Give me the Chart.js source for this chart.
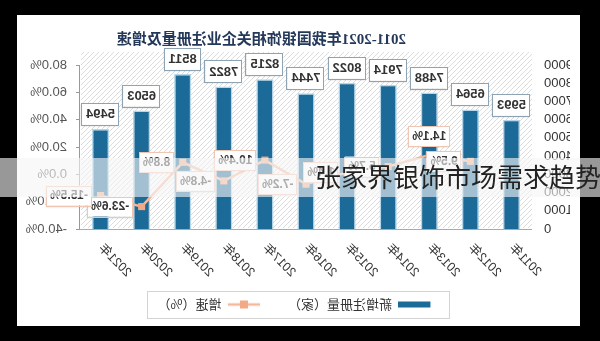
<!DOCTYPE html>
<html>
<head>
<meta charset="utf-8">
<script src="https://cdn.jsdelivr.net/npm/chart.js@4.4.1/dist/chart.umd.min.js"></script>
<style>
  html, body { margin: 0; padding: 0; background: #000; }
  body { width: 600px; height: 341px; position: relative; overflow: hidden; }
  /* the whole card is shown flipped left-to-right */
  #flip { position: absolute; left: 0; top: 0; width: 600px; height: 341px; transform: scaleX(-1); }
  #panel { position: absolute; left: 20px; top: 15px; width: 563px; height: 311px; background: #fff; }
  #title {
    position: absolute; left: 174px; top: 15px; white-space: nowrap;
    font: bold 15px "Liberation Serif", "Noto Sans CJK SC", serif; line-height: 18px; color: #24385a;
  }
  #chartBox { position: absolute; left: 0; top: 0; width: 563px; height: 311px; }
  #band {
    position: absolute; left: 0; top: 158px; width: 600px; height: 39px;
    background: rgba(245, 245, 245, 0.62);
  }
  #band span {
    position: absolute; left: 315px; top: 0; white-space: nowrap;
    font: 26px "Noto Sans CJK SC", sans-serif; line-height: 36px; color: #222;
  }
</style>
</head>
<body>
<div id="flip">
  <div id="panel">
    <div id="chartBox"><canvas id="firmChart"></canvas></div>
    <div id="title">2011-2021年我国银饰相关企业注册量及增速</div>
  </div>
</div>
<div id="band"><span>张家界银饰市场需求趋势</span></div>

<script>
const years = ["2011年", "2012年", "2013年", "2014年", "2015年", "2016年",
  "2017年", "2018年", "2019年", "2020年", "2021年"];
const newFirms = [5993, 6564, 7488, 7914, 8022, 7444, 8215, 7822, 8511, 6503, 5494];
const growthPct = [null, 9.5, 14.1, 5.7, 1.4, -7.2, 10.4, -4.8, 8.8, -23.6, -15.5];
const countTicks = [0, 1000, 2000, 3000, 4000, 5000, 6000, 7000, 8000, 9000];
const pctTicks = [-40, -20, 0, 20, 40, 60, 80];

const BAR_BLUE = "#1b6a98";
const LINE_ORANGE = "#f4b89c";
const MARK_ORANGE = "#f2a985";

// growth tags sit above the point for these years, beside it otherwise
const raisedTags = ["2013年"];

const makeSwatch = (draw) => {
  const c = document.createElement("canvas");
  c.width = 40;
  c.height = 12;
  draw(c.getContext("2d"));
  return c;
};

const barSwatch = makeSwatch((g) => {
  g.fillStyle = BAR_BLUE;
  g.fillRect(8, 3, 32, 6);
});

const lineSwatch = makeSwatch((g) => {
  g.strokeStyle = LINE_ORANGE;
  g.lineWidth = 2.5;
  g.beginPath();
  g.moveTo(8, 6);
  g.lineTo(40, 6);
  g.stroke();
  g.fillStyle = MARK_ORANGE;
  g.fillRect(20, 2, 8, 8);
});

const hatchPlugin = {
  id: "hatch",
  beforeDraw(chart) {
    const { ctx, chartArea: a } = chart;
    const top = a.top - 13;
    const h = a.bottom - top;
    ctx.save();
    ctx.beginPath();
    ctx.rect(a.left, top, a.right - a.left - 1, h - 1);
    ctx.clip();
    ctx.strokeStyle = "#dcdcdc";
    ctx.lineWidth = 1;
    for (let x = a.left - h; x < a.right + h; x += 5) {
      ctx.beginPath();
      ctx.moveTo(x, top);
      ctx.lineTo(x + h, a.bottom);
      ctx.stroke();
    }
    ctx.restore();
  },
};

const drawTag = (ctx, x, y, w, h, border) => {
  ctx.save();
  ctx.shadowColor = "rgba(0,0,0,0.15)";
  ctx.shadowBlur = 2;
  ctx.shadowOffsetX = 1;
  ctx.shadowOffsetY = 1;
  ctx.fillStyle = "#fff";
  ctx.fillRect(x, y, w, h);
  ctx.restore();
  ctx.strokeStyle = border;
  ctx.lineWidth = 1;
  ctx.strokeRect(Math.round(x) + 0.5, Math.round(y) + 0.5, Math.round(w), Math.round(h));
};

const tagPlugin = {
  id: "valueTags",
  afterDatasetsDraw(chart) {
    const { ctx } = chart;
    ctx.save();
    ctx.textAlign = "center";
    ctx.textBaseline = "middle";

    ctx.font = 'bold 13px "Liberation Sans", sans-serif';
    chart.getDatasetMeta(0).data.forEach((bar, i) => {
      const text = String(newFirms[i]);
      const w = ctx.measureText(text).width + 8;
      const h = 22;
      const y = bar.y - 4 - h;
      drawTag(ctx, bar.x - w / 2, y, w, h, "#8ea4b4");
      ctx.fillStyle = "#333";
      ctx.fillText(text, bar.x, y + h / 2 + 0.5);
    });

    ctx.font = 'bold 12px "Liberation Sans", sans-serif';
    chart.getDatasetMeta(1).data.forEach((pt, i) => {
      const v = growthPct[i];
      if (v === null) return;
      const text = v.toFixed(1) + "%";
      const w = ctx.measureText(text).width + 7;
      const h = 20;
      let x, y;
      if (raisedTags.includes(years[i])) {
        x = pt.x - w / 2;
        y = pt.y - 9 - h;
      } else {
        x = pt.x + 9;
        y = pt.y - h / 2;
      }
      drawTag(ctx, x, y, w, h, "#f0c6b2");
      ctx.fillStyle = "#333";
      ctx.fillText(text, x + w / 2, y + h / 2 + 0.5);
    });
    ctx.restore();
  },
};

const legendFramePlugin = {
  id: "legendFrame",
  afterDraw(chart) {
    const boxes = chart.legend && chart.legend.legendHitBoxes;
    if (!boxes || !boxes.length) return;
    const { ctx } = chart;
    const first = boxes[0];
    const last = boxes[boxes.length - 1];
    const left = Math.round(first.left + 8 - 20);
    const right = Math.round(last.left + last.width + 10);
    const cy = Math.round(first.top + first.height / 2);
    ctx.save();
    ctx.strokeStyle = "#d4d4d4";
    ctx.lineWidth = 1;
    ctx.strokeRect(left + 0.5, cy - 13.5, right - left, 27);
    ctx.restore();
  },
};

new Chart(document.getElementById("firmChart"), {
  data: {
    labels: years,
    datasets: [
      {
        type: "bar",
        label: "新增注册量（家）",
        data: newFirms,
        yAxisID: "y",
        backgroundColor: BAR_BLUE,
        borderColor: "#b7d6e8",
        borderWidth: 1.5,
        barPercentage: 0.42,
        categoryPercentage: 1,
        order: 1,
      },
      {
        type: "line",
        label: "增速（%）",
        data: growthPct,
        yAxisID: "y1",
        borderColor: LINE_ORANGE,
        borderWidth: 2.5,
        pointStyle: "rect",
        pointRadius: 5,
        pointBackgroundColor: MARK_ORANGE,
        pointBorderWidth: 0,
        tension: 0,
        order: 0,
      },
    ],
  },
  options: {
    responsive: true,
    maintainAspectRatio: false,
    animation: false,
    layout: { padding: { left: 10, right: 9, top: 50, bottom: 5 } },
    plugins: {
      title: { display: false },
      tooltip: { enabled: false },
      legend: {
        position: "bottom",
        labels: {
          usePointStyle: true,
          pointStyleWidth: 40,
          padding: 20,
          color: "#333",
          font: { family: '"Noto Sans CJK SC", sans-serif', size: 13 },
          generateLabels: (chart) =>
            chart.data.datasets.map((ds, i) => ({
              text: ds.label,
              pointStyle: i === 0 ? barSwatch : lineSwatch,
              fillStyle: "transparent",
              strokeStyle: "transparent",
              lineWidth: 0,
              fontColor: "#333",
              hidden: false,
              datasetIndex: i,
            })),
        },
      },
    },
    scales: {
      x: {
        offset: true,
        grid: { display: false, drawTicks: false },
        border: { display: true, color: "#aaa" },
        ticks: {
          autoSkip: false,
          minRotation: 45,
          maxRotation: 45,
          padding: 12,
          color: "#333",
          font: { family: '"Liberation Sans", "Noto Sans CJK SC", sans-serif', size: 12.5 },
        },
        afterFit: (scale) => { scale.height = 49; },
      },
      y: {
        position: "left",
        min: countTicks[0],
        max: countTicks[countTicks.length - 1],
        grid: { display: false, drawTicks: false },
        border: { display: false },
        ticks: {
          autoSkip: false,
          stepSize: countTicks[1] - countTicks[0],
          padding: 12,
          color: "#333",
          font: { family: '"Liberation Sans", sans-serif', size: 13, lineHeight: 1 },
          callback: (v) => String(v),
        },
        afterFit: (scale) => { scale.width = 38; },
      },
      y1: {
        position: "right",
        min: pctTicks[0],
        max: pctTicks[pctTicks.length - 1],
        grid: { drawOnChartArea: false, drawTicks: true, tickLength: 4, color: "#999" },
        border: { display: true, color: "#999" },
        ticks: {
          autoSkip: false,
          stepSize: pctTicks[1] - pctTicks[0],
          padding: 9,
          color: "#555",
          font: { family: '"Liberation Sans", sans-serif', size: 13 },
          callback: (v) => v.toFixed(1) + "%",
        },
        afterFit: (scale) => { scale.width = 54; },
      },
    },
  },
  plugins: [hatchPlugin, tagPlugin, legendFramePlugin],
});
</script>
</body>
</html>
